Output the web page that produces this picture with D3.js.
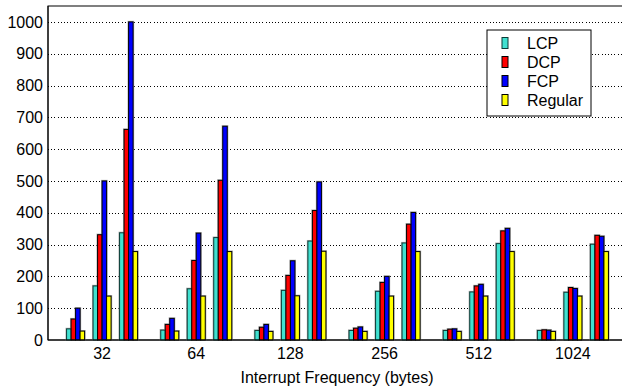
<!DOCTYPE html>
<html>
<head>
<meta charset="utf-8">
<script src="https://cdn.jsdelivr.net/npm/d3@7"></script>
<style>
  html, body { margin: 0; padding: 0; background: #fff; }
  svg { display: block; font-family: "Liberation Sans", Arial, sans-serif; }
</style>
</head>
<body>
<svg id="chart" width="622" height="388"></svg>
<script>
// Interrupt frequency categories (bytes)
const categories = ["32", "64", "128", "256", "512", "1024"];
// Three runs per category, drawn as three clusters of four bars
const runs = ["r1", "r2", "r3"];
const methods = ["LCP", "DCP", "FCP", "Regular"];
const colors = ["#40e0d0", "#ff0000", "#0000ff", "#ffff00"];

// Values per category: [run1, run2, run3]
const lcp     = [[35, 170, 337], [31, 161, 322], [30, 156, 311], [30, 153, 305], [30, 151, 303], [30, 150, 301]];
const dcp     = [[66, 331, 662], [49, 250, 502], [40, 203, 407], [37, 181, 364], [34, 170, 343], [32, 165, 329]];
const fcp     = [[100, 500, 1000], [68, 336, 672], [49, 249, 497], [41, 200, 401], [35, 175, 351], [31, 162, 326]];
const regular = [[28, 138, 278], [28, 138, 278], [27, 139, 279], [27, 138, 278], [27, 138, 278], [27, 138, 278]];

const yTicks = [0, 100, 200, 300, 400, 500, 600, 700, 800, 900, 1000];
const xTitle = "Interrupt Frequency (bytes)";

const series = [lcp, dcp, fcp, regular];

const svg = d3.select("#chart");
const plotL = 48, plotT = 6, plotB = 340, plotR = 626;

const y = d3.scaleLinear().domain([0, 1050]).range([plotB, plotT]);
const x = d3.scaleBand().domain(categories).range([55, 620]).paddingInner(0).paddingOuter(0);
const xRun = d3.scaleBand().domain(runs).range([-39.75, 39.75]).paddingInner(0.32).paddingOuter(0.16);
const xBar = d3.scaleBand().domain(methods).range([0, xRun.bandwidth()]);

// plot frame
svg.append("rect")
  .attr("x", plotL).attr("y", plotT)
  .attr("width", plotR - plotL).attr("height", plotB - plotT)
  .attr("fill", "#fff").attr("stroke", "#000").attr("stroke-width", 1);

// dotted horizontal grid
const grid = d3.axisLeft(y).tickValues(yTicks.slice(1)).tickSize(-(plotR - plotL)).tickFormat("");
svg.append("g")
  .attr("transform", `translate(${plotL},0)`)
  .call(grid)
  .call(g => g.select(".domain").remove())
  .call(g => g.selectAll("line").attr("stroke", "#000").attr("stroke-dasharray", "1,2.2").attr("shape-rendering", "crispEdges"));

// y tick labels
const yAxis = d3.axisLeft(y).tickValues(yTicks).tickFormat(d3.format("d")).tickSize(0).tickPadding(5);
svg.append("g")
  .attr("transform", `translate(${plotL},0)`)
  .call(yAxis)
  .call(g => g.select(".domain").remove())
  .call(g => g.selectAll("text").attr("font-size", 16).attr("fill", "#000")
    .attr("font-family", "'Liberation Sans', Arial, sans-serif"));

// bars
const barData = [];
categories.forEach((c, ci) => {
  runs.forEach((r, ri) => {
    methods.forEach((m, mi) => {
      barData.push({ c, r, m, mi, v: series[mi][ci][ri] });
    });
  });
});

const bars = svg.append("g");
// soft grey halo under each bar
bars.selectAll("rect.halo").data(barData).join("rect")
  .attr("class", "halo")
  .attr("x", d => x(d.c) + x.bandwidth() / 2 + xRun(d.r) + xBar(d.m) - 0.5)
  .attr("y", d => y(d.v) - 0.5)
  .attr("width", xBar.bandwidth() + 1)
  .attr("height", d => y(0) - y(d.v) + 0.5)
  .attr("fill", "none").attr("stroke", "#b0b0b0").attr("stroke-width", 1.2);
bars.selectAll("rect.bar").data(barData).join("rect")
  .attr("class", "bar")
  .attr("x", d => x(d.c) + x.bandwidth() / 2 + xRun(d.r) + xBar(d.m))
  .attr("y", d => y(d.v))
  .attr("width", xBar.bandwidth())
  .attr("height", d => y(0) - y(d.v))
  .attr("fill", d => colors[d.mi])
  .attr("stroke", d => d.mi === 0 ? "#0b3b36" : "#000")
  .attr("stroke-width", 1);

// axis lines
svg.append("line")
  .attr("x1", plotL).attr("x2", plotR).attr("y1", plotB).attr("y2", plotB)
  .attr("stroke", "#000").attr("stroke-width", 1);
svg.append("line")
  .attr("x1", plotL).attr("x2", plotL).attr("y1", plotT).attr("y2", plotB)
  .attr("stroke", "#000").attr("stroke-width", 1);

// x tick labels
const xAxis = d3.axisBottom(x).tickSize(0).tickPadding(8);
svg.append("g")
  .attr("transform", `translate(0,${plotB})`)
  .call(xAxis)
  .call(g => g.select(".domain").remove())
  .call(g => g.selectAll("text").attr("font-size", 16).attr("fill", "#000")
    .attr("font-family", "'Liberation Sans', Arial, sans-serif"));

// x axis title
svg.append("text")
  .attr("x", (plotL + plotR) / 2).attr("y", 383)
  .attr("text-anchor", "middle").attr("font-size", 16).attr("fill", "#000")
  .text(xTitle);

// legend
const lg = svg.append("g").attr("transform", "translate(487,30)");
lg.append("rect").attr("x", 0).attr("y", 0).attr("width", 104).attr("height", 86)
  .attr("fill", "#fff").attr("stroke", "#000").attr("stroke-width", 1);
const legendY = d3.scalePoint().domain(methods).range([13, 70]);
methods.forEach((m, i) => {
  lg.append("rect")
    .attr("x", 15).attr("y", legendY(m) - 5.5)
    .attr("width", 6).attr("height", 11)
    .attr("fill", colors[i]).attr("stroke", i === 0 ? "#0b3b36" : "#000").attr("stroke-width", 1);
  lg.append("text")
    .attr("x", 40).attr("y", legendY(m)).attr("dy", "0.36em")
    .attr("font-size", 16).attr("fill", "#000").text(m);
});
</script>
</body>
</html>
